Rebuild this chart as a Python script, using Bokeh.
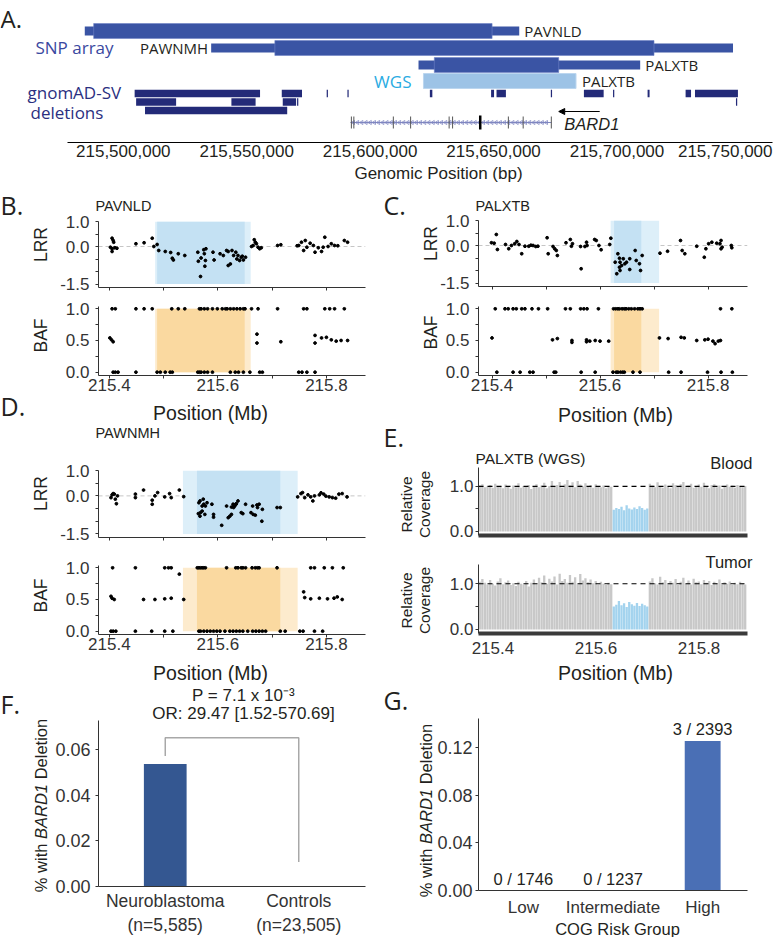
import numpy as np
from bokeh.plotting import figure
from bokeh.layouts import row, column
from bokeh.models import (Range1d, FactorRange, FixedTicker, PrintfTickFormatter,
                          NumeralTickFormatter, Label, LabelSet, ColumnDataSource,
                          Span, Arrow, NormalHead, GridBox)
from bokeh.core.properties import value
from bokeh.embed import file_html
from bokeh.resources import INLINE

# ===================== DATA =====================
# Panel A (bp)
snp_samples     = ["PAVNLD", "PAWNMH", "PALXTB"]
snp_outer_start = [215484400, 215535600, 215619600]
snp_outer_end   = [215660400, 215747000, 215709400]
snp_inner_start = [215488000, 215561400, 215626000]
snp_inner_end   = [215649400, 215715000, 215676400]
wgs_sample = ["PALXTB"]
wgs_start  = [215621600]
wgs_end    = [215683400]
gnomad_start = [215504600, 215564200, 215582400, 215590800, 215624200, 215649000, 215651200,
                215673200, 215686600, 215698400, 215712400, 215727800, 215731600,
                215505200, 215543800, 215564600, 215570400, 215748200,
                215508800]
gnomad_end   = [215555400, 215572400, 215582900, 215591300, 215625200, 215650200, 215655000,
                215673700, 215694600, 215698900, 215713200, 215730000, 215749000,
                215521400, 215553600, 215570000, 215570900, 215748700,
                215566400]
gnomad_row   = [0, 0, 0, 0, 0, 0, 0, 0, 0, 0, 0, 0, 0,
                1, 1, 1, 1, 1,
                2]
bard1_start = 215592000
bard1_end = 215673400
bard1_exons = [215592400, 215593400, 215609400, 215616400, 215632000, 215633400,
               215656000, 215662000, 215673400]
bard1_main_exon = [215644600]
genomic_ticks = [215500000, 215550000, 215600000, 215650000, 215700000, 215750000]

# Panel B (PAVNLD) LRR (Mb, LRR)
b_lrr = [(215.405, 0.33), (215.407, 0.24), (215.408, 0.17), (215.402, -0.03), (215.405, -0.09),
         (215.410, -0.05), (215.414, -0.07), (215.405, -0.20), (215.449, 0.11), (215.464, 0.15),
         (215.479, 0.33), (215.482, 0.00), (215.488, 0.08), (215.491, -0.16), (215.503, -0.20),
         (215.513, -0.24), (215.516, -0.47), (215.518, -0.54), (215.527, -0.29), (215.539, -0.36),
         (215.563, -0.23), (215.564, -0.59), (215.569, -0.46), (215.574, -0.13), (215.575, -0.29),
         (215.577, -0.56), (215.578, -0.09), (215.568, -1.20), (215.576, -0.79), (215.591, -0.23),
         (215.593, -0.54), (215.604, -0.29), (215.610, -0.36), (215.616, -0.16), (215.619, -0.76),
         (215.623, -0.70), (215.619, -0.20), (215.626, -0.16), (215.629, -0.36), (215.633, -0.23),
         (215.635, -0.50), (215.637, -0.36), (215.640, -0.56), (215.643, -0.43), (215.645, -0.39),
         (215.647, -0.54), (215.651, -0.43), (215.662, 0.00), (215.665, 0.04), (215.667, 0.27),
         (215.669, 0.17), (215.671, 0.11), (215.674, -0.03), (215.677, -0.09), (215.680, -0.05),
         (215.710, 0.04), (215.716, 0.07), (215.746, 0.03), (215.749, 0.04), (215.754, 0.17),
         (215.758, -0.16), (215.761, 0.24), (215.764, -0.03), (215.770, 0.13), (215.776, 0.04),
         (215.779, -0.23), (215.785, -0.05), (215.791, -0.20), (215.794, -0.03), (215.797, 0.37),
         (215.803, 0.00), (215.809, 0.11), (215.815, 0.04), (215.821, 0.03), (215.833, 0.24),
         (215.839, 0.17)]
b_baf_hom1 = [215.405, 215.411, 215.449, 215.464, 215.479, 215.515, 215.527, 215.539, 215.566,
              215.569, 215.575, 215.581, 215.590, 215.599, 215.608, 215.614, 215.617, 215.623,
              215.629, 215.635, 215.641, 215.647, 215.650, 215.662, 215.674, 215.710, 215.758,
              215.764, 215.797, 215.806, 215.815, 215.833]
b_baf_het = [(215.401, 0.54), (215.404, 0.51), (215.407, 0.48), (215.672, 0.60), (215.672, 0.46),
             (215.716, 0.48), (215.779, 0.58), (215.779, 0.46), (215.791, 0.54), (215.800, 0.55),
             (215.809, 0.51), (215.818, 0.49), (215.827, 0.50), (215.839, 0.50)]
b_baf_hom0 = [215.407, 215.411, 215.416, 215.449, 215.488, 215.494, 215.503, 215.512, 215.516,
              215.563, 215.566, 215.569, 215.575, 215.581, 215.590, 215.623, 215.632, 215.638,
              215.647, 215.659, 215.677, 215.682, 215.749, 215.755, 215.764, 215.779]

# Panel C (PALXTB)
c_lrr = [(215.399, 0.11), (215.404, 0.09), (215.408, 0.44), (215.410, -0.16), (215.425, 0.04),
         (215.431, -0.13), (215.436, 0.00), (215.442, 0.07), (215.446, 0.16), (215.450, 0.04),
         (215.455, -0.33), (215.461, -0.03), (215.468, -0.03), (215.472, 0.01), (215.476, 0.00),
         (215.481, -0.04), (215.485, -0.03), (215.502, 0.31), (215.504, -0.33), (215.513, -0.04),
         (215.516, -0.13), (215.519, -0.20), (215.521, -0.40), (215.537, 0.11), (215.545, 0.24),
         (215.547, -0.03), (215.549, 0.07), (215.564, -0.04), (215.565, -0.93), (215.572, -0.04),
         (215.575, 0.13), (215.576, 0.00), (215.590, 0.24), (215.593, 0.20), (215.598, 0.00),
         (215.602, -0.17), (215.618, 0.04), (215.620, 0.29), (215.633, -0.33), (215.636, -0.51),
         (215.637, -0.67), (215.628, -0.67), (215.631, -1.13), (215.640, -0.80), (215.637, -1.00),
         (215.636, -0.87), (215.643, -0.53), (215.646, -0.73), (215.649, -0.67), (215.655, -0.53),
         (215.655, -0.96), (215.665, -0.20), (215.667, -0.60), (215.673, -0.73), (215.675, -1.00),
         (215.678, -0.40), (215.711, -0.31), (215.725, -0.23), (215.749, 0.20), (215.752, -0.20),
         (215.757, -0.33), (215.779, -0.03), (215.793, -0.47), (215.796, -0.13), (215.801, 0.07),
         (215.807, 0.13), (215.816, 0.09), (215.822, 0.07), (215.824, 0.20), (215.824, -0.13),
         (215.826, -0.07), (215.843, 0.00), (215.844, -0.09)]
c_baf_hom1 = [215.406, 215.424, 215.430, 215.439, 215.445, 215.455, 215.461, 215.474, 215.486,
              215.503, 215.536, 215.545, 215.564, 215.570, 215.576, 215.597, 215.625, 215.629,
              215.633, 215.636, 215.641, 215.645, 215.648, 215.653, 215.658, 215.664, 215.670,
              215.674, 215.678, 215.823, 215.844]
c_baf_het = [(215.400, 0.54), (215.512, 0.51), (215.521, 0.53), (215.548, 0.50), (215.548, 0.47),
             (215.575, 0.51), (215.575, 0.48), (215.581, 0.49), (215.591, 0.50), (215.600, 0.49),
             (215.616, 0.49), (215.710, 0.54), (215.726, 0.53), (215.750, 0.55), (215.756, 0.54),
             (215.779, 0.50), (215.794, 0.51), (215.800, 0.52), (215.809, 0.49), (215.813, 0.45),
             (215.819, 0.49), (215.823, 0.50)]
c_baf_hom0 = [215.409, 215.439, 215.452, 215.470, 215.476, 215.515, 215.518, 215.565, 215.591,
              215.624, 215.630, 215.633, 215.638, 215.642, 215.645, 215.661, 215.674, 215.727,
              215.750, 215.799, 215.824, 215.845]

# Panel D (PAWNMH)
d_lrr = [(215.403, -0.07), (215.405, 0.04), (215.407, 0.09), (215.409, 0.07), (215.411, -0.13),
         (215.413, -0.31), (215.415, 0.00), (215.448, 0.07), (215.448, -0.07), (215.463, 0.23),
         (215.479, -0.33), (215.479, -0.17), (215.484, 0.00), (215.489, 0.13), (215.502, -0.04),
         (215.511, 0.09), (215.514, -0.07), (215.529, 0.23), (215.537, -0.03), (215.565, -0.27),
         (215.567, -0.20), (215.568, -0.66), (215.571, -0.40), (215.573, -0.13), (215.574, -0.33),
         (215.577, -0.40), (215.580, -0.27), (215.564, -0.70), (215.567, -0.80), (215.571, -0.60),
         (215.576, -0.73), (215.589, -0.33), (215.592, -0.73), (215.592, -0.84), (215.607, -1.16),
         (215.616, -0.40), (215.619, -0.86), (215.622, -0.80), (215.625, -0.73), (215.625, -0.44),
         (215.628, -0.33), (215.629, -0.46), (215.631, -0.40), (215.633, -0.33), (215.634, -0.31),
         (215.637, -0.20), (215.643, -0.66), (215.646, -0.70), (215.651, -0.33), (215.661, -0.66),
         (215.664, -0.40), (215.665, -0.73), (215.669, -0.76), (215.672, -0.36), (215.673, -0.46),
         (215.676, -0.33), (215.681, -1.00), (215.682, -0.53), (215.709, -0.46), (215.715, -0.46),
         (215.747, -0.04), (215.753, 0.09), (215.756, 0.13), (215.760, -0.07), (215.766, 0.04),
         (215.771, -0.04), (215.775, -0.20), (215.778, 0.00), (215.787, 0.04), (215.790, 0.12),
         (215.795, 0.07), (215.799, -0.01), (215.805, -0.04), (215.811, -0.07), (215.817, -0.09),
         (215.823, 0.07), (215.829, 0.09), (215.838, -0.04)]
d_baf_hom1 = [215.406, 215.448, 215.502, 215.509, 215.514, 215.562, 215.565, 215.568, 215.571,
              215.574, 215.577, 215.616, 215.633, 215.637, 215.643, 215.646, 215.651, 215.663,
              215.669, 215.673, 215.676, 215.709, 215.771, 215.778, 215.796, 215.811, 215.831]
d_baf_het = [(215.529, 0.90), (215.403, 0.55), (215.405, 0.52), (215.409, 0.50), (215.463, 0.50),
             (215.484, 0.50), (215.502, 0.51), (215.514, 0.52), (215.537, 0.50), (215.758, 0.62),
             (215.760, 0.53), (215.771, 0.51), (215.787, 0.52), (215.802, 0.51), (215.814, 0.52),
             (215.820, 0.54), (215.829, 0.50)]
d_baf_hom0 = [215.403, 215.407, 215.412, 215.448, 215.478, 215.502, 215.517, 215.565, 215.568,
              215.574, 215.580, 215.586, 215.592, 215.598, 215.604, 215.613, 215.622, 215.628,
              215.634, 215.640, 215.646, 215.655, 215.664, 215.670, 215.676, 215.682, 215.688,
              215.715, 215.724, 215.751, 215.757, 215.778, 215.793]

# Panel E (WGS relative coverage, 5 kb bins from 215.372 Mb)
e_bin_start = 215.372
e_bin_width = 0.005
e_del_start, e_del_end = 215.632, 215.702
blood_cov = [1.02, 1.05, 0.98, 1.00, 1.03, 0.97, 1.06, 0.99, 1.01, 0.96,
             1.04, 1.00, 0.95, 1.02, 0.98, 1.07, 0.97, 1.01, 0.99, 1.03,
             0.94, 1.00, 1.05, 0.98, 1.02, 1.08, 0.96, 1.01, 1.12, 0.99,
             1.03, 1.10, 0.97, 1.05, 1.14, 1.02, 1.09, 0.98, 1.12, 1.04,
             1.00, 1.07, 0.99, 1.03, 0.97, 1.05, 1.01, 0.98, 1.02, 0.96,
             1.00, 0.99,
             0.48, 0.52, 0.50, 0.55, 0.47, 0.58, 0.51, 0.49, 0.53, 0.50, 0.56, 0.52, 0.48, 0.51,
             1.06, 1.02, 0.98, 1.09, 1.01, 0.97, 1.04, 1.00, 0.96, 1.07,
             1.03, 0.99, 1.05, 1.10, 0.98, 1.02, 1.06, 0.97, 1.01, 1.04,
             0.99, 1.08, 1.00, 0.96, 1.03, 1.05, 0.98, 1.02, 0.95, 1.01,
             1.04, 0.99, 1.02, 0.97, 1.03, 1.00, 0.98, 1.01]
tumor_cov = [1.04, 1.10, 1.02, 0.98, 1.08, 1.00, 0.96, 1.05, 1.12, 0.99,
             1.03, 1.07, 0.97, 1.01, 0.95, 1.04, 1.00, 0.98, 1.06, 0.94,
             1.02, 1.09, 0.99, 1.13, 1.03, 1.18, 1.00, 1.11, 1.05, 1.16,
             0.98, 1.22, 1.06, 1.10, 1.02, 1.19, 1.04, 1.14, 0.99, 1.21,
             1.07, 1.12, 1.03, 1.09, 1.01, 1.06, 0.98, 1.04, 1.00, 0.97,
             1.02, 0.99,
             0.50, 0.54, 0.62, 0.53, 0.57, 0.49, 0.60, 0.55, 0.52, 0.58, 0.51, 0.56, 0.53, 0.50,
             1.05, 1.12, 1.01, 0.98, 1.15, 1.03, 1.08, 0.99, 1.06, 1.02,
             1.10, 0.97, 1.04, 1.13, 1.00, 1.07, 0.98, 1.11, 1.03, 1.05,
             0.99, 1.08, 1.02, 1.06, 0.97, 1.04, 1.01, 1.09, 0.98, 1.03,
             1.00, 1.05, 0.97, 1.02, 0.99, 1.04, 1.01, 0.98]

# Panel F
f_groups = ["Neuroblastoma\n(n=5,585)", "Controls\n(n=23,505)"]
f_pct = [0.0537, 0.0]
f_ticks = [0.0, 0.02, 0.04, 0.06]
f_pvalue = "P = 7.1 x 10\u207b\u00b3"
f_or = "OR: 29.47 [1.52-570.69]"

# Panel G
g_groups = ["Low", "Intermediate", "High"]
g_pct = [0.0, 0.0, 0.1254]
g_counts = ["0 / 1746", "0 / 1237", "3 / 2393"]
g_ticks = [0.0, 0.04, 0.08, 0.12]

# ===================== STYLE / LAYOUT =====================
s = 1.0
def S(v):
    return int(round(v * s))
def FS(v):
    return "%.1fpx" % (v * s)

SANS = "Liberation Sans"
MYR = "Open Sans"
TXT = "#231f20"
AXC = "#333333"
SNP_C = "#3a54a4"
WGS_C = "#9dc3e6"
GNO_C = "#232a78"
LRR_DARK, LRR_LIGHT = "#c4e1f3", "#ddeff9"
BAF_DARK, BAF_LIGHT = "#fad9a0", "#fdebcd"


def make(box, frame, xr, yr):
    x0, x1, y0, y1 = box
    fx0, fx1, fy0, fy1 = frame
    p = figure(width=S(x1) - S(x0), height=S(y1) - S(y0), x_range=xr, y_range=yr,
               toolbar_location=None, tools="", output_backend="svg",
               min_border_left=S(fx0) - S(x0), min_border_right=S(x1) - S(fx1),
               min_border_top=S(fy0) - S(y0), min_border_bottom=S(y1) - S(fy1))
    p.outline_line_color = None
    p.xgrid.visible = False
    p.ygrid.visible = False
    return p


def style(p, tick=17.0):
    for ax in p.axis:
        ax.axis_line_color = AXC
        ax.axis_line_width = 1
        ax.major_tick_line_color = AXC
        ax.minor_tick_line_color = AXC
        ax.major_tick_in = 0
        ax.major_tick_out = 3
        ax.minor_tick_in = 0
        ax.minor_tick_out = 3
        ax.major_label_text_font = SANS
        ax.major_label_text_font_size = FS(tick)
        ax.major_label_text_color = AXC
        ax.major_label_standoff = 4


# ---------------- Panel A ----------------
pA = make((0, 774, 0, 190), (67, 772, 20, 142), Range1d(215477400, 215763000), Range1d(142, 20))
TRACK_Y = [30.5, 47.5, 64.5]
WGS_Y = 80.5
GNO_Y = [93, 101.5, 110]
GENE_Y = 122
ARROW_Y = 111

pA.hbar(y=TRACK_Y, left=snp_outer_start, right=snp_outer_end, height=9,
        fill_color=SNP_C, line_color=None)
pA.hbar(y=TRACK_Y, left=snp_inner_start, right=snp_inner_end, height=15,
        fill_color=SNP_C, line_color="#6f83c6", line_width=0.6)
pA.hbar(y=[WGS_Y], left=wgs_start, right=wgs_end, height=15,
        fill_color=WGS_C, line_color="#bcd6ef", line_width=1)
pA.hbar(y=[GNO_Y[r] for r in gnomad_row], left=gnomad_start, right=gnomad_end, height=7.5,
        fill_color=GNO_C, line_color=None)
pA.segment(x0=[bard1_start], y0=[GENE_Y], x1=[bard1_end], y1=[GENE_Y],
           line_color="#8088c0", line_width=1.2)
chev = np.arange(bard1_start + 1200, bard1_end - 600, 1700)
pA.scatter(chev, [GENE_Y] * len(chev), marker="triangle", angle=np.pi / 2, size=4,
           fill_color=None, line_color="#7d84c0", line_width=0.8)
pA.segment(x0=bard1_exons, y0=[GENE_Y - 6] * len(bard1_exons), x1=bard1_exons,
           y1=[GENE_Y + 6] * len(bard1_exons), line_color="#555555", line_width=1)
pA.segment(x0=bard1_main_exon, y0=[GENE_Y - 7], x1=bard1_main_exon, y1=[GENE_Y + 7],
           line_color="black", line_width=2.5)
pA.add_layout(Arrow(x_start=bard1_end + 19600, y_start=ARROW_Y, x_end=bard1_end + 3000,
                    y_end=ARROW_Y, line_color="black", line_width=1.2,
                    end=NormalHead(size=6, fill_color="black", line_color="black")))
pA.add_layout(Label(x=bard1_end, y=GENE_Y + 1, x_offset=13 * s, text="BARD1",
                    text_font=SANS, text_font_style="italic", text_font_size=FS(16.5),
                    text_baseline="middle", text_color=TXT))
label_side = ["right", "left", "right"]
for i, name in enumerate(snp_samples):
    if label_side[i] == "right":
        pA.add_layout(Label(x=snp_outer_end[i], y=TRACK_Y[i], x_offset=5 * s, text=name,
                            text_font=MYR, text_font_size=FS(15), text_baseline="middle",
                            text_align="left", text_color=TXT))
    else:
        pA.add_layout(Label(x=snp_outer_start[i], y=TRACK_Y[i], x_offset=-3 * s, text=name,
                            text_font=MYR, text_font_size=FS(15), text_baseline="middle",
                            text_align="right", text_color=TXT))
pA.add_layout(Label(x=wgs_end[0], y=WGS_Y, x_offset=6 * s, text=wgs_sample[0],
                    text_font=MYR, text_font_size=FS(15), text_baseline="middle",
                    text_align="left", text_color=TXT))
pA.add_layout(Label(x=wgs_start[0], y=WGS_Y, x_offset=-12 * s, text="WGS",
                    text_font=MYR, text_font_size=FS(17), text_baseline="middle",
                    text_align="right", text_color="#29abe2"))
pA.yaxis.visible = False
pA.xaxis.ticker = FixedTicker(ticks=genomic_ticks[:-1])
pA.xaxis.formatter = NumeralTickFormatter(format="0,0")
pA.xaxis.axis_line_color = "black"
pA.xaxis.axis_line_width = 1.2
pA.xaxis.major_tick_line_color = None
pA.xaxis.minor_tick_line_color = None
pA.xaxis.major_tick_out = 0
pA.xaxis.major_label_standoff = 2
pA.xaxis.major_label_text_font = SANS
pA.xaxis.major_label_text_font_size = FS(17)
pA.xaxis.major_label_text_color = TXT


# ---------------- LRR / BAF panels ----------------
def lrr_fig(box, frame, xr, i, pairs):
    p = make(box, frame, Range1d(*xr), Range1d(-1.64, 1.0))
    p.add_layout(Span(location=0, dimension="width", line_color="#c6c6c6", line_dash="4 3",
                      line_width=1, level="underlay"))
    p.quad(left=[snp_outer_start[i] / 1e6], right=[snp_outer_end[i] / 1e6], bottom=[-1.5],
           top=[1.0], fill_color=LRR_LIGHT, line_color=None)
    p.quad(left=[snp_inner_start[i] / 1e6], right=[snp_inner_end[i] / 1e6], bottom=[-1.5],
           top=[1.0], fill_color=LRR_DARK, line_color=None)
    p.scatter([a for a, b in pairs], [b for a, b in pairs], size=2.8, color="black")
    style(p)
    p.yaxis.ticker = FixedTicker(ticks=[-1.5, 0, 1], minor_ticks=[-1, -0.5, 0.5])
    p.yaxis.formatter = PrintfTickFormatter(format="%.1f")
    p.yaxis.major_label_standoff = 6
    p.xaxis.ticker = FixedTicker(ticks=[], minor_ticks=[215.4, 215.5, 215.6, 215.7, 215.8])
    return p


def baf_fig(box, frame, xr, i, hom1, het, hom0):
    p = make(box, frame, Range1d(*xr), Range1d(-0.052, 1.036))
    p.quad(left=[snp_outer_start[i] / 1e6], right=[snp_outer_end[i] / 1e6], bottom=[0],
           top=[1.0], fill_color=BAF_LIGHT, line_color=None)
    p.quad(left=[snp_inner_start[i] / 1e6], right=[snp_inner_end[i] / 1e6], bottom=[0],
           top=[1.0], fill_color=BAF_DARK, line_color=None)
    xs = list(hom1) + [a for a, b in het] + list(hom0)
    ys = [1.0] * len(hom1) + [b for a, b in het] + [0.0] * len(hom0)
    p.scatter(xs, ys, size=2.8, color="black")
    style(p)
    p.yaxis.ticker = FixedTicker(ticks=[0, 0.5, 1], minor_ticks=[0.25, 0.75])
    p.yaxis.formatter = PrintfTickFormatter(format="%.1f")
    p.yaxis.major_label_standoff = 6
    p.xaxis.ticker = FixedTicker(ticks=[215.4, 215.6, 215.8], minor_ticks=[215.5, 215.7])
    p.xaxis.formatter = PrintfTickFormatter(format="%.1f")
    p.xaxis.major_label_standoff = 0
    return p


XR_L = (215.380, 215.872)
XR_C = (215.375, 215.873)

pB1 = lrr_fig((0, 387, 190, 296), (92, 365, 221, 286.7), XR_L, 0, b_lrr)
pB2 = baf_fig((0, 387, 296, 425), (92, 365, 306, 375), XR_L, 0, b_baf_hom1, b_baf_het, b_baf_hom0)
pD1 = lrr_fig((0, 387, 425, 545), (92, 365, 470, 536.7), XR_L, 1, d_lrr)
pD2 = baf_fig((0, 387, 545, 683), (92, 365, 565, 634.5), XR_L, 1, d_baf_hom1, d_baf_het, d_baf_hom0)
pC1 = lrr_fig((387, 774, 190, 296), (473, 747, 220, 286), XR_C, 2, c_lrr)
pC2 = baf_fig((387, 774, 296, 423), (473, 747, 306, 375), XR_C, 2, c_baf_hom1, c_baf_het, c_baf_hom0)


# ---------------- Panel E ----------------
def cov_fig(box, frame, cov, show_x):
    p = make(box, frame, Range1d(215.372, 215.894), Range1d(-0.09, 1.42))
    centers = e_bin_start + e_bin_width * (np.arange(len(cov)) + 0.5)
    cols = ["#a3d3ee" if e_del_start <= c <= e_del_end else "#c8c8c8" for c in centers]
    p.vbar(x=centers, top=cov, bottom=0, width=e_bin_width * 0.9, fill_color=cols,
           line_color=None)
    p.add_layout(Span(location=1.0, dimension="width", line_color="black", line_dash="5 4",
                      line_width=1.1))
    style(p)
    p.yaxis.ticker = FixedTicker(ticks=[0, 1], minor_ticks=[0.5])
    p.yaxis.formatter = PrintfTickFormatter(format="%.1f")
    p.yaxis.major_label_standoff = 2
    p.xaxis.axis_line_width = 4
    p.xaxis.axis_line_color = "#3a3a3a"
    p.xaxis.major_tick_line_color = None
    p.xaxis.minor_tick_line_color = None
    if show_x:
        p.xaxis.ticker = FixedTicker(ticks=[215.4, 215.6, 215.8])
        p.xaxis.formatter = PrintfTickFormatter(format="%.1f")
        p.xaxis.major_label_standoff = 5
    else:
        p.xaxis.ticker = FixedTicker(ticks=[])
    return p


pE1 = cov_fig((387, 774, 423, 545), (470, 752.7, 467, 535), blood_cov, False)
pE2 = cov_fig((387, 774, 545, 683), (470, 752.7, 564, 633.1), tumor_cov, True)

# ---------------- Panel F ----------------
pF = make((0, 387, 683, 937), (97.7, 385, 720, 893), FactorRange(*f_groups), Range1d(0, 0.0727))
pF.vbar(x=f_groups, top=f_pct, width=0.32, fill_color="#345791", line_color=None)
pF.line(x=[f_groups[0], f_groups[0], f_groups[1], f_groups[1]],
        y=[f_pct[0] + 0.0034, 0.0651, 0.0651, 0.0107], line_color="#a8a8a8", line_width=1.5)
style(pF, tick=18)
pF.yaxis.ticker = FixedTicker(ticks=f_ticks)
pF.yaxis.formatter = PrintfTickFormatter(format="%.2f")
pF.yaxis.major_label_standoff = 5
pF.xaxis.major_tick_out = 0
pF.xaxis.major_tick_line_color = None
pF.xaxis.major_label_standoff = 4
pF.xaxis.major_label_text_font_size = FS(17.5)

# ---------------- Panel G ----------------
pG = make((387, 774, 683, 937), (477.7, 758.7, 718, 890), FactorRange(*g_groups), Range1d(0, 0.1443))
src_g = ColumnDataSource(dict(g=g_groups, v=g_pct, t=g_counts))
pG.vbar(x="g", top="v", width=0.4, source=src_g, fill_color="#4a6fb5", line_color=None)
pG.add_layout(LabelSet(x="g", y="v", text="t", source=src_g, y_offset=3,
                       text_align="center", text_baseline="bottom",
                       text_font=value(SANS), text_font_size=value(FS(16.5)),
                       text_color=TXT))
style(pG, tick=18)
pG.yaxis.ticker = FixedTicker(ticks=g_ticks)
pG.yaxis.formatter = PrintfTickFormatter(format="%.2f")
pG.yaxis.major_label_standoff = 3
pG.xaxis.major_tick_out = 0
pG.xaxis.major_tick_line_color = None
pG.xaxis.major_label_standoff = 7
pG.xaxis.major_label_text_font_size = FS(17)

# ---------------- text overlay (page-wide, transparent) ----------------
ov = figure(width=S(774), height=S(937), x_range=Range1d(0, 774), y_range=Range1d(937, 0),
            toolbar_location=None, tools="", output_backend="svg", min_border=0,
            x_axis_location=None, y_axis_location=None)
ov.outline_line_color = None
ov.background_fill_color = None
ov.border_fill_color = None
ov.xgrid.visible = False
ov.ygrid.visible = False


def T(X, Y, text, size, font=SANS, align="left", color=TXT, style_="normal", angle=0.0,
      baseline="middle"):
    ov.add_layout(Label(x=X, y=Y, text=text, text_font=font, text_font_size=FS(size),
                        text_align=align, text_baseline=baseline, text_color=color,
                        text_font_style=style_, angle=angle))


def italic_ytitle(Xc, Yc, size):
    # "% with BARD1 Deletion" with BARD1 in italics; widths from Arial metrics (em units)
    parts = [("% with", "normal", 2.945), ("BARD1", "italic", 3.334), ("Deletion", "normal", 3.668)]
    space = 0.278
    total = (sum(w for _, _, w in parts) + 2 * space) * size
    y = Yc + total / 2.0
    for txt, st, w in parts:
        T(Xc, y, txt, size, style_=st, angle=np.pi / 2)
        y -= (w + space) * size


ROT = np.pi / 2
# Panel A
T(0, 1, "A.", 24, font=MYR, baseline="top")
T(35, 47, "SNP array", 17, font=MYR, color="#3a48a0")
T(27, 92, "gnomAD-SV", 17, font=MYR, color="#2b2f7f")
T(30, 112, "deletions", 17, font=MYR, color="#2b2f7f")
T(772, 144, "{:,}".format(genomic_ticks[-1]), 17, align="right", baseline="top")
T(438, 173, "Genomic Position (bp)", 17, align="center")
# Panel B
T(0, 204, "B.", 25, font=MYR)
T(95, 205, snp_samples[0], 14.5)
T(40, 244, "LRR", 17.5, align="center", angle=ROT)
T(40, 335, "BAF", 17.5, align="center", angle=ROT)
T(210, 412, "Position (Mb)", 19.5, align="center")
# Panel C
T(383, 204, "C.", 25, font=MYR)
T(475, 205, snp_samples[2], 14.5)
T(430, 243, "LRR", 17.5, align="center", angle=ROT)
T(430, 332, "BAF", 17.5, align="center", angle=ROT)
T(615, 414, "Position (Mb)", 19.5, align="center")
# Panel D
T(0, 405, "D.", 25, font=MYR)
T(95, 432, snp_samples[1], 14.5)
T(40, 493, "LRR", 17.5, align="center", angle=ROT)
T(40, 595, "BAF", 17.5, align="center", angle=ROT)
T(210, 672, "Position (Mb)", 19.5, align="center")
# Panel E
T(383, 436, "E.", 25, font=MYR)
T(475, 458, "PALXTB (WGS)", 15.5)
T(752, 462, "Blood", 16.5, align="right")
T(752, 561, "Tumor", 16.5, align="right")
T(406, 504, "Relative", 15.5, align="center", angle=ROT)
T(424, 504, "Coverage", 15.5, align="center", angle=ROT)
T(406, 600, "Relative", 15.5, align="center", angle=ROT)
T(424, 600, "Coverage", 15.5, align="center", angle=ROT)
T(615, 672, "Position (Mb)", 19.5, align="center")
# Panel F
T(0, 703, "F.", 25, font=MYR)
T(243, 695, f_pvalue, 17, align="center")
T(243, 713, f_or, 17, align="center")
italic_ytitle(40, 805, 16.5)
# Panel G
T(383, 699, "G.", 25, font=MYR)
italic_ytitle(425, 810, 16.5)
T(617, 928, "COG Risk Group", 16.5, align="center")

# ---------------- assemble ----------------
left = column(pB1, pB2, pD1, pD2, pF, spacing=0)
right = column(pC1, pC2, pE1, pE2, pG, spacing=0)
main = column(pA, row(left, right, spacing=0), spacing=0)
page = GridBox(children=[(main, 0, 0), (ov, 0, 0)])

open("out.html", "w").write(file_html(page, INLINE, title="BARD1 deletions"))
